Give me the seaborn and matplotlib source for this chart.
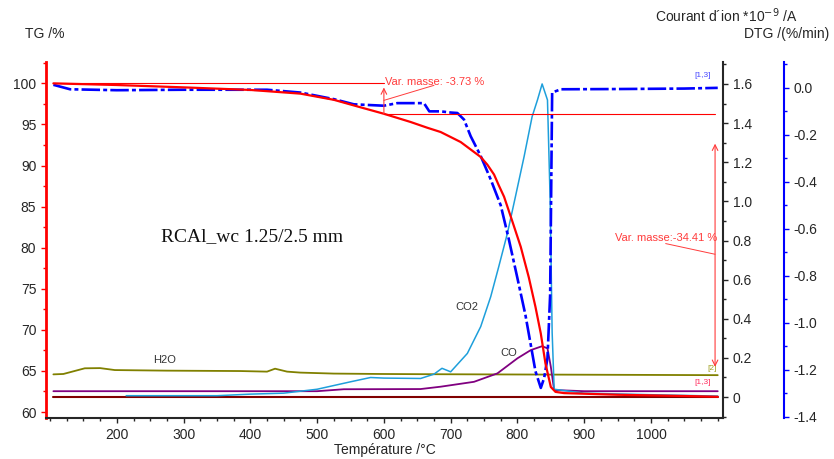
import matplotlib
matplotlib.use("Agg")
import matplotlib.pyplot as plt
from matplotlib.ticker import MultipleLocator, FuncFormatter
import seaborn as sns

# TG curve (%)
tg_temp = [105, 200, 305, 400, 475, 525, 560, 600, 640, 665, 685, 715, 745, 755, 765,
           772, 780, 792, 805, 817, 827, 835, 842, 850, 857, 870, 950, 1050, 1100]
tg_vals = [100.0, 99.8, 99.5, 99.2, 98.75, 98.0, 97.2, 96.3, 95.3, 94.6, 94.08, 92.86,
           91.04, 90.1, 88.9, 87.6, 86.2, 83.3, 80.1, 76.4, 72.8, 69.55, 65.9, 63.05,
           62.45, 62.3, 62.1, 61.95, 61.86]

# DTG curve (%/min)
dtg_temp = [105, 130, 200, 300, 425, 475, 525, 555, 600, 620, 660, 668, 685, 700, 710,
            720, 730, 745, 760, 775, 787, 800, 812, 820, 827, 835, 840, 845, 849, 852,
            865, 950, 1050, 1100]
dtg_vals = [0.013, -0.006, -0.01, -0.008, -0.008, -0.02, -0.048, -0.07, -0.076, -0.065,
            -0.065, -0.10, -0.10, -0.105, -0.107, -0.135, -0.206, -0.29, -0.39, -0.50,
            -0.643, -0.81, -0.967, -1.094, -1.206, -1.277, -1.235, -1.15, -0.88, -0.02,
            -0.006, -0.005, -0.003, 0.0]

# ion currents (*1e-9 A)
co2_temp = [214, 350, 400, 450, 500, 550, 580, 600, 655, 675, 687, 700, 725, 745, 760,
            772, 785, 797, 810, 822, 830, 837, 845, 849, 852, 855, 900, 1000, 1100]
co2_vals = [0.007, 0.007, 0.015, 0.02, 0.04, 0.078, 0.10, 0.097, 0.095, 0.117, 0.147,
            0.129, 0.223, 0.36, 0.513, 0.666, 0.837, 1.024, 1.229, 1.433, 1.518, 1.60,
            1.518, 1.007, 0.33, 0.04, 0.02, 0.012, 0.005]

co_temp = [105, 500, 540, 655, 685, 735, 770, 800, 820, 837, 845, 850, 855, 900, 1100]
co_vals = [0.03, 0.03, 0.04, 0.041, 0.053, 0.078, 0.121, 0.198, 0.24, 0.26, 0.249, 0.155,
           0.036, 0.03, 0.03]

h2o_temp = [105, 120, 152, 175, 197, 275, 385, 425, 437, 455, 475, 525, 595, 655, 1100]
h2o_vals = [0.116, 0.118, 0.147, 0.148, 0.138, 0.135, 0.133, 0.130, 0.145, 0.13, 0.125,
            0.12, 0.118, 0.117, 0.112]

base_temp = [105, 1100]
base_vals = [0.0, 0.0]

sns.set_style("ticks")
plt.rcParams['font.family'] = ['Liberation Sans', 'DejaVu Sans']
plt.rcParams['axes.unicode_minus'] = False
plt.rcParams['mathtext.default'] = 'regular'

fig = plt.figure(figsize=(8.34, 4.59), dpi=100)
ax = fig.add_axes([0.0552, 0.0893, 0.8118, 0.7756])
ax_ion = ax.twinx()
ax_dtg = ax.twinx()

red = '#ff0000'
ann = '#ff3b3b'

# curves
sns.lineplot(x=base_temp, y=base_vals, ax=ax_ion, color='#800000', lw=1.5)
sns.lineplot(x=h2o_temp, y=h2o_vals, ax=ax_ion, color='#808000', lw=1.3)
sns.lineplot(x=co_temp, y=co_vals, ax=ax_ion, color='#800080', lw=1.3)
sns.lineplot(x=co2_temp, y=co2_vals, ax=ax_ion, color='#1e9fdb', lw=1.1)
sns.lineplot(x=dtg_temp, y=dtg_vals, ax=ax_dtg, color='#0000ff', lw=1.9,
             linestyle=(0, (7, 1.2, 1.5, 1.2)))
sns.lineplot(x=tg_temp, y=tg_vals, ax=ax, color=red, lw=1.6)
ax.set_zorder(3)
ax.patch.set_visible(False)

# limits
ax.set_xlim(94, 1108)
ax.set_ylim(59.27, 102.6)
ax_ion.set_ylim(-0.107, 1.712)
ax_dtg.set_ylim(-1.405, 0.11)

# main axis styling
for s in ['top', 'right']:
    ax.spines[s].set_visible(False)
ax.spines['left'].set_color(red)
ax.spines['left'].set_linewidth(2)
ax.spines['bottom'].set_linewidth(1.5)
ax.xaxis.set_minor_locator(MultipleLocator(25))
ax.set_xticks(range(200, 1001, 100))
ax.yaxis.set_major_locator(MultipleLocator(5))
ax.yaxis.set_minor_locator(MultipleLocator(2.5))
ax.tick_params(axis='both', which='major', labelsize=10, direction='out', length=3.5, width=1)
ax.tick_params(axis='both', which='minor', direction='out', length=2, width=1)
ax.tick_params(axis='y', which='both', color=red)
ax.set_xlabel('')
ax.set_ylabel('')

for s in ['top', 'left', 'bottom']:
    ax_ion.spines[s].set_visible(False)
    ax_dtg.spines[s].set_visible(False)
ax_ion.spines['right'].set_linewidth(1.5)
ax_ion.yaxis.set_major_locator(MultipleLocator(0.2))
ax_ion.yaxis.set_minor_locator(MultipleLocator(0.1))
ax_ion.yaxis.set_major_formatter(FuncFormatter(lambda v, p: '0' if abs(v) < 1e-9 else f'{v:.1f}'))
ax_ion.tick_params(axis='y', which='major', labelsize=10, direction='out', length=3.5, width=1)
ax_ion.tick_params(axis='y', which='minor', direction='out', length=2, width=1)
ax_ion.set_ylabel('')

ax_dtg.spines['right'].set_position(('axes', 1.09))
ax_dtg.spines['right'].set_color('#0000ff')
ax_dtg.spines['right'].set_linewidth(1.5)
ax_dtg.yaxis.set_major_locator(MultipleLocator(0.2))
ax_dtg.yaxis.set_minor_locator(MultipleLocator(0.1))
ax_dtg.yaxis.set_major_formatter(FuncFormatter(lambda v, p: f'{v:.1f}'))
ax_dtg.tick_params(axis='y', which='major', labelsize=10, direction='out', length=3.5,
                   width=1, color='#0000ff')
ax_dtg.tick_params(axis='y', which='minor', direction='out', length=2, width=1, color='#0000ff')
ax_dtg.set_ylabel('')

# mass-change annotations (TG axis)
ax.plot([105, 600], [100, 100], color=red, lw=0.8)
ax.plot([600, 1096], [96.25, 96.25], color=red, lw=0.8)
ax.annotate('', xy=(600, 99.5), xytext=(600, 96.3),
            arrowprops=dict(arrowstyle='->', color=ann, lw=0.8, shrinkA=0, shrinkB=0))
ax.plot([600, 675], [97.93, 99.76], color=ann, lw=0.7)
ax.text(601, 100.2, 'Var. masse: -3.73 %', color=ann, fontsize=8, va='center', ha='left')

ax.annotate('', xy=(1096, 92.66), xytext=(1096, 65.5),
            arrowprops=dict(arrowstyle='<->', color=ann, lw=0.8, shrinkA=0, shrinkB=0))
ax.plot([1022, 1096], [80.5, 79.2], color=ann, lw=0.7)
ax.text(1100, 81.14, 'Var. masse:-34.41 %', color=ann, fontsize=8, va='center', ha='right')

ax.text(1078, 101.0, '[1,3]', color='#4a4aff', fontsize=6, ha='center', va='center')
ax_ion.text(1092, 0.145, '[2]', color='#a0a020', fontsize=6, ha='center', va='center')
ax_ion.text(1078, 0.075, '[1,3]', color='#ff3060', fontsize=6, ha='center', va='center')

# gas labels
ax_ion.text(272, 0.19, 'H2O', color='#333333', fontsize=8, ha='center', va='center')
ax_ion.text(725, 0.46, 'CO2', color='#333333', fontsize=8, ha='center', va='center')
ax_ion.text(787, 0.225, 'CO', color='#333333', fontsize=8, ha='center', va='center')

ax.text(403, 81.3, 'RCAl_wc 1.25/2.5 mm', family=['Liberation Serif', 'DejaVu Serif'],
        fontsize=14, ha='center', va='center', color='#111111')

# axis titles
fig.text(25 / 834, 1 - 34 / 459, 'TG /%', fontsize=10, ha='left', va='center')
fig.text(798 / 834, 1 - 16 / 459, 'Courant d\u00b4ion *10$^{\\mathrm{-9}}$ /A', fontsize=10,
         ha='right', va='center')
fig.text(829 / 834, 1 - 34 / 459, 'DTG /(%/min)', fontsize=10, ha='right', va='center')
fig.text(385 / 834, 1 - 450 / 459, 'Température /°C', fontsize=10, ha='center', va='center')

fig.savefig('out.png', dpi=100)
